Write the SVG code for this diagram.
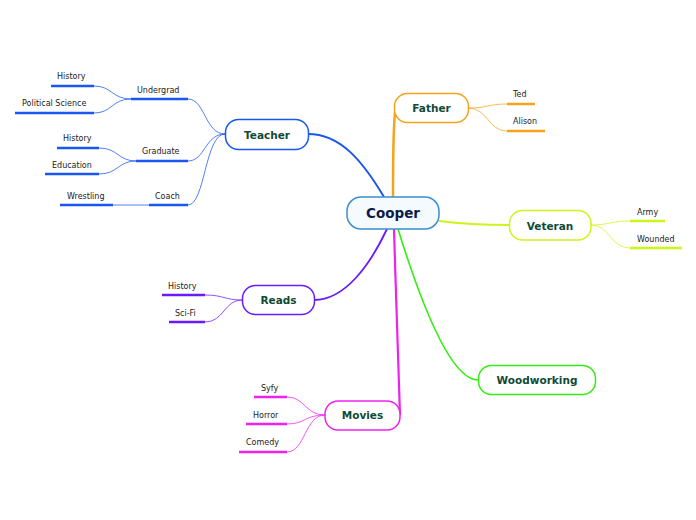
<svg xmlns="http://www.w3.org/2000/svg" width="696" height="520" viewBox="0 0 696 520">
<style>
.node{fill:#fff;stroke-width:1.5}
.nt{font-family:"DejaVu Sans",Verdana,sans-serif;font-weight:bold;font-size:10.5px;fill:#0f4a35;text-anchor:middle}
.st{font-family:"DejaVu Sans",Verdana,sans-serif;font-size:8px;fill:#222}
.ul{stroke-width:2.5;fill:none}
.c{fill:none}
.thin{stroke-width:1;fill:none;opacity:0.75}
</style>
<rect width="696" height="520" fill="#fff"/>
<g id="connectors">
  <path class="c" d="M384,197 C362,160 340,134 308,134" stroke="#1a56f0" stroke-width="2"/>
  <path class="c" d="M393,197 C393,160 393,118 396,106" stroke="#f7a21b" stroke-width="2.5"/>
  <path class="c" d="M439,221 C470,225 490,225 509,225" stroke="#ccf51a" stroke-width="2"/>
  <path class="c" d="M387,229 C370,265 345,300 314,300" stroke="#6a1aff" stroke-width="1.8"/>
  <path class="c" d="M394,229 C396,300 399,380 400,415" stroke="#ee22ee" stroke-width="2.2"/>
  <path class="c" d="M398,229 C420,300 450,380 478,380" stroke="#33ee11" stroke-width="1.6"/>
  <g stroke="#1a56f0">
    <path class="thin" d="M225,134 C205,134 205,99 188,99"/>
    <path class="thin" d="M225,134 C205,134 205,161 188,161"/>
    <path class="thin" d="M225,134 C205,134 205,205 188,205"/>
    <path class="thin" d="M131,99 C112,99 112,86 94,86"/>
    <path class="thin" d="M131,99 C112,99 112,113 94,113"/>
    <path class="thin" d="M136,161 C118,161 118,148 99,148"/>
    <path class="thin" d="M136,161 C118,161 118,174 99,174"/>
    <path class="thin" d="M149,205 L113,205"/>
  </g>
  <g stroke="#f7a21b">
    <path class="thin" d="M468,108 C488,108 488,104 507,104"/>
    <path class="thin" d="M468,108 C488,108 488,131 507,131"/>
  </g>
  <g stroke="#ccf51a">
    <path class="thin" d="M591,225 C610,225 610,221 630,221"/>
    <path class="thin" d="M591,225 C610,225 610,248 630,248"/>
  </g>
  <g stroke="#6a1aff">
    <path class="thin" d="M242,300 C224,300 224,295 205,295"/>
    <path class="thin" d="M242,300 C224,300 224,322 205,322"/>
  </g>
  <g stroke="#ee22ee">
    <path class="thin" d="M325,415 C305,415 305,397 287,397"/>
    <path class="thin" d="M325,415 C305,415 305,424 287,424"/>
    <path class="thin" d="M325,415 C305,415 305,452 287,452"/>
  </g>
</g>
<g id="cooper">
  <rect x="347" y="197" width="92" height="32" rx="14" fill="#f4fafe" stroke="#3a8fd0" stroke-width="1.5"/>
  <text x="393" y="218" font-family="DejaVu Sans,Verdana,sans-serif" font-weight="bold" font-size="13.5" fill="#0a1a4a" text-anchor="middle">Cooper</text>
</g>
<g id="father">
  <rect class="node" x="394.5" y="93.5" width="74" height="29" rx="13" stroke="#f7a21b"/>
  <text class="nt" x="431.5" y="112">Father</text>
</g>
<g id="ted">
  <text class="st" x="513" y="97">Ted</text>
  <line class="ul" x1="507" y1="104" x2="535" y2="104" stroke="#f7a21b"/>
</g>
<g id="alison">
  <text class="st" x="513" y="124">Alison</text>
  <line class="ul" x1="507" y1="131" x2="545" y2="131" stroke="#f7a21b"/>
</g>
<g id="veteran">
  <rect class="node" x="509.5" y="210.5" width="81.5" height="29.5" rx="13" stroke="#ccf51a"/>
  <text class="nt" x="550" y="229.5">Veteran</text>
</g>
<g id="army">
  <text class="st" x="637" y="215">Army</text>
  <line class="ul" x1="630" y1="221" x2="665" y2="221" stroke="#ccf51a"/>
</g>
<g id="wounded">
  <text class="st" x="637" y="242">Wounded</text>
  <line class="ul" x1="630" y1="248" x2="682" y2="248" stroke="#ccf51a"/>
</g>
<g id="teacher">
  <rect class="node" x="225.5" y="119.5" width="83" height="30" rx="13" stroke="#1a56f0"/>
  <text class="nt" x="267" y="138.5">Teacher</text>
</g>
<g id="undergrad">
  <text class="st" x="137" y="93">Undergrad</text>
  <line class="ul" x1="131" y1="99" x2="188" y2="99" stroke="#1a56f0"/>
</g>
<g id="history1">
  <text class="st" x="57" y="79">History</text>
  <line class="ul" x1="51" y1="86" x2="94" y2="86" stroke="#1a56f0"/>
</g>
<g id="polisci">
  <text class="st" x="22" y="106">Political Science</text>
  <line class="ul" x1="15" y1="113" x2="94" y2="113" stroke="#1a56f0"/>
</g>
<g id="graduate">
  <text class="st" x="142" y="154">Graduate</text>
  <line class="ul" x1="136" y1="161" x2="188" y2="161" stroke="#1a56f0"/>
</g>
<g id="history2">
  <text class="st" x="63" y="141">History</text>
  <line class="ul" x1="57" y1="148" x2="99" y2="148" stroke="#1a56f0"/>
</g>
<g id="education">
  <text class="st" x="52" y="168">Education</text>
  <line class="ul" x1="45" y1="174" x2="99" y2="174" stroke="#1a56f0"/>
</g>
<g id="coach">
  <text class="st" x="155" y="199">Coach</text>
  <line class="ul" x1="149" y1="205" x2="188" y2="205" stroke="#1a56f0"/>
</g>
<g id="wrestling">
  <text class="st" x="67" y="199">Wrestling</text>
  <line class="ul" x1="60" y1="205" x2="113" y2="205" stroke="#1a56f0"/>
</g>
<g id="reads">
  <rect class="node" x="242.5" y="285.5" width="72" height="29" rx="13" stroke="#6a1aff"/>
  <text class="nt" x="278.5" y="304">Reads</text>
</g>
<g id="history3">
  <text class="st" x="168" y="289">History</text>
  <line class="ul" x1="162" y1="295" x2="205" y2="295" stroke="#6a1aff"/>
</g>
<g id="scifi">
  <text class="st" x="175" y="316">Sci-Fi</text>
  <line class="ul" x1="169" y1="322" x2="205" y2="322" stroke="#6a1aff"/>
</g>
<g id="movies">
  <rect class="node" x="325" y="401" width="75" height="29" rx="13" stroke="#ee22ee"/>
  <text class="nt" x="362.5" y="419">Movies</text>
</g>
<g id="syfy">
  <text class="st" x="261" y="391">Syfy</text>
  <line class="ul" x1="254" y1="397" x2="287" y2="397" stroke="#ee22ee"/>
</g>
<g id="horror">
  <text class="st" x="253" y="418">Horror</text>
  <line class="ul" x1="246" y1="424" x2="287" y2="424" stroke="#ee22ee"/>
</g>
<g id="comedy">
  <text class="st" x="246" y="445">Comedy</text>
  <line class="ul" x1="239" y1="452" x2="287" y2="452" stroke="#ee22ee"/>
</g>
<g id="woodworking">
  <rect class="node" x="478.5" y="365.5" width="117" height="29" rx="13" stroke="#33ee11"/>
  <text class="nt" x="537" y="384">Woodworking</text>
</g>
</svg>
